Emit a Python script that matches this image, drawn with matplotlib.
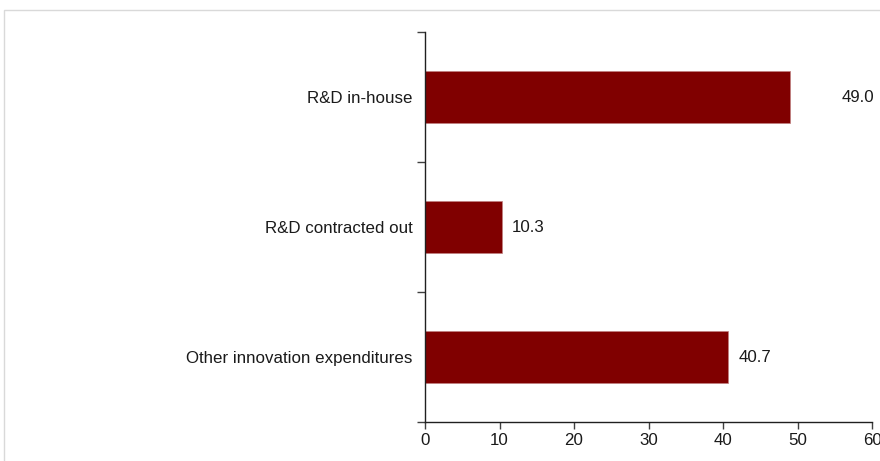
import matplotlib
matplotlib.use("Agg")
import matplotlib.pyplot as plt
from matplotlib.patches import Rectangle

plt.rcParams['font.family'] = ['Liberation Sans', 'DejaVu Sans']

categories = ["R&D in-house", "R&D contracted out", "Other innovation expenditures"]
values = [49.0, 10.3, 40.7]
xticks = [0, 10, 20, 30, 40, 50, 60]

FS = 12.2
fig = plt.figure(figsize=(8.8, 4.61), dpi=100)
fig.patches.append(Rectangle((4/880, -0.1), 1.2, 1 - 10/461 + 0.1, transform=fig.transFigure,
                             fill=False, edgecolor='#d9d9d9', linewidth=1))
ax = fig.add_axes([425/880, 1 - 422/461, (872 - 425)/880, (422 - 32)/461])

ypos = [2, 1, 0]
ax.barh(ypos, values, height=0.4, color='#800000', edgecolor='#c08080', linewidth=0.5)
for y, v in zip(ypos, values):
    off = 52 if v > 45 else 10
    ax.annotate(f"{v:.1f}", (v, y), xytext=(off, 0), textcoords='offset pixels',
                ha='left', va='center', fontsize=FS, color='#1a1a1a')

ax.set_xlim(0, 60)
ax.set_ylim(-0.5, 2.5)
ax.set_xticks(xticks)
ax.set_yticks(ypos)
ax.set_yticklabels(categories)
ax.set_yticks([-0.5, 0.5, 1.5, 2.5], minor=True)
ax.tick_params(axis='y', which='major', length=0, pad=9, labelsize=FS, labelcolor='#1a1a1a')
ax.tick_params(axis='y', which='minor', length=6, width=1, color='#404040')
ax.tick_params(axis='x', which='major', length=5, width=1, color='#404040', labelsize=FS,
               labelcolor='#1a1a1a', pad=3)
for s in ['top', 'right']:
    ax.spines[s].set_visible(False)
for s in ['left', 'bottom']:
    ax.spines[s].set_color('#202020')
    ax.spines[s].set_linewidth(1)

fig.savefig("out.png", dpi=100)
